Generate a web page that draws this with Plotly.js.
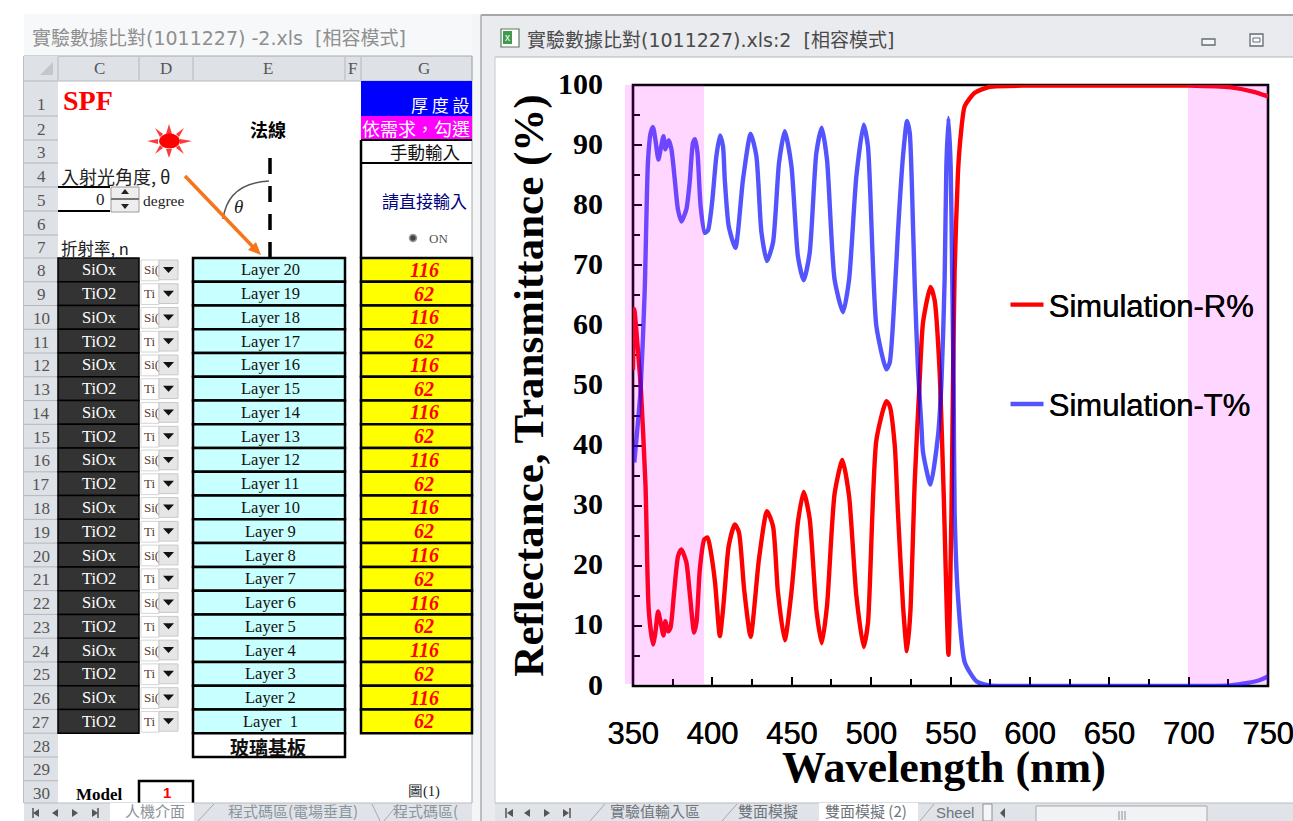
<!DOCTYPE html>
<html>
<head>
<meta charset="utf-8">
<script src="https://cdn.plot.ly/plotly-3.0.1.min.js"></script>
<style>html,body{margin:0;padding:0;background:#fff;overflow:hidden}#chart{width:1293px;height:821px}</style>
</head>
<body>
<div id="chart"></div>
<script>
// ---------- chart data ----------
const wavelengthR = [350,350.8,353,355,357.9,358.4,359.9,362.6,364.1,365.8,367.4,369.2,370.4,372.1,373.6,375.9,378.4,380.5,383.6,385.7,388.5,390,392.1,394.9,397,399.1,401.7,404.7,406.7,407.8,410.3,414.1,416.7,420,424.1,429.3,434.4,438.2,441.3,445.6,449.8,453.9,457.5,461.3,465.5,468.9,472.2,477,481.9,486.1,490.7,495.3,498,503.3,509.6,511.7,514.9,516.9,520.1,522.6,524.7,527.5,530.6,532.7,537.4,540,543.1,545.7,548.7,550.6,551.6,552.6,554.7,556.4,559,565.3,574.7,600,650,700,726.5,740.4,750];
const reflectance = [52.6,62.7,56.2,49.3,33.2,27.7,12.7,6.9,8.9,12.4,10.6,8.4,10.8,9.1,9.7,15.6,21.6,22.7,20.6,15.6,8.9,10.6,19.4,24.4,24.7,22.2,17.2,8.3,12.7,16.1,23.3,26.9,25.6,16.1,8.2,21,29.1,26.6,15.6,7.6,15.6,27.3,32.3,27.8,12.7,7.1,13.3,32,37.6,31.6,15,6.5,10.5,40.9,47.4,46.6,40,28.9,13.3,5.8,12.2,34.2,51,60.5,66.4,64.2,52.6,32.1,5.2,28.9,51,69,85.4,91.5,96.5,98.7,99.7,99.9,99.9,99.9,99.6,98.9,98.1];
const wavelengthT = [350.8,353.1,354.8,357.4,359.4,361.1,362.6,364.1,366,367.4,369.2,370.4,372.5,374.2,376.3,378.3,380.5,383.6,385.7,387.8,389.1,390.6,392.6,395.2,397.2,399.8,402.5,404.8,406.7,407.8,410.3,414.5,419.3,424.1,427.7,430.9,434.4,438.2,442,445.6,449.8,453.9,457.5,461.3,465.5,468.9,472.2,477,482.3,486.1,490.7,495.3,498,503.3,509.6,511.7,514.9,516.9,520.1,522.6,524.3,526.4,527.5,529.5,531.7,532.7,537.4,542.1,544.3,546.3,547.4,548.7,550.1,551,552,552.6,554.7,559,566.3,574.7,600,650,700,726,737,745,750];
const transmittance = [37.2,43.8,49.3,66,87.1,92,93,90.9,87.6,89.3,91.5,89.3,90.8,89.3,84.3,79.3,77.3,79.3,83.8,90.4,91,88.8,79.8,75.4,75.8,80.4,88.1,91.6,89.8,84.3,76.5,72.9,84.3,91.9,88.2,75.5,70.7,73.8,87.1,92.3,86.5,71.5,67.5,72.1,88.7,92.9,87.6,67.6,62.2,67.6,84.8,93.4,89.8,59.9,52.7,53.8,65.5,75.5,88.2,94,92.1,76.5,66.5,52.7,43.2,38.9,33.5,41.6,50.5,67.6,86.5,94.5,86.5,69.8,48.9,28.9,14.9,3.9,0.8,0.1,0,0,0,0.1,0.5,1,1.6];
const seriesNames = ['Simulation-R%','Simulation-T%'];
const xTitle = 'Wavelength (nm)';
const yTitle = 'Reflectance, Transmittance (%)';

// ---------- spreadsheet contents ----------
const columnLetters = ['C','D','E','F','G'];
const materials = ['SiOx','TiO2'];
const comboTexts = ['Si(','Ti'];
const thicknesses = ['116','62'];
const layerNames = ['Layer 20','Layer 19','Layer 18','Layer 17','Layer 16','Layer 15','Layer 14','Layer 13','Layer 12','Layer 11','Layer 10','Layer 9','Layer 8','Layer 7','Layer 6','Layer 5','Layer 4','Layer 3','Layer 2','Layer  1'];

const W = 1293, H = 821;
const X = p => p / W, Y = p => 1 - p / H;
const SANS = 'Liberation Sans', SERIF = 'Liberation Serif', CJK = 'Noto Sans CJK TC';
const TITLEFONT = 'DejaVu Sans, Noto Sans CJK TC';
const shapes = [], annotations = [];

function rect(x0,y0,x1,y1,fill,lineColor,lw){
  shapes.push({type:'rect',xref:'paper',yref:'paper',x0:X(x0),x1:X(x1),y0:Y(y0),y1:Y(y1),layer:'below',
    fillcolor:fill||'rgba(0,0,0,0)',line:{color:lineColor||'rgba(0,0,0,0)',width:lw||0}});
}
function seg(x0,y0,x1,y1,color,lw,dash){
  shapes.push({type:'line',xref:'paper',yref:'paper',x0:X(x0),x1:X(x1),y0:Y(y0),y1:Y(y1),layer:'below',
    line:{color:color,width:lw,dash:dash||'solid'}});
}
function poly(pts,fill){
  const d = pts.map((p,i)=>(i?'L':'M')+X(p[0])+','+Y(p[1])).join(' ')+' Z';
  shapes.push({type:'path',xref:'paper',yref:'paper',path:d,layer:'below',fillcolor:fill,line:{color:fill,width:0}});
}
function oval(cx,cy,rx,ry,fill,lineColor,lw){
  shapes.push({type:'circle',xref:'paper',yref:'paper',x0:X(cx-rx),x1:X(cx+rx),y0:Y(cy+ry),y1:Y(cy-ry),layer:'below',
    fillcolor:fill,line:{color:lineColor||fill,width:lw||0}});
}
function label(text,x,y,size,color,family,anchor){
  annotations.push({text:text,xref:'paper',yref:'paper',x:X(x),y:Y(y),showarrow:false,xanchor:anchor||'center',yanchor:'middle',
    borderpad:0,borderwidth:0,font:{size:size,color:color,family:family}});
}

// window backgrounds
rect(24,14,472,56,'#f7f8f9');
rect(24,56,472,803,'#ffffff');
rect(472,14,481,821,'#f4f5f7');
rect(481,14,1293,821,'#e9ebef');
seg(481,15,1293,15,'#8b9096',1.5);
seg(481,15,481,821,'#a8adb3',1.5);
rect(495,57,1293,803,'#ffffff');
seg(495,57,1293,57,'#b0b4ba',1);
seg(495,57,495,803,'#c4c8cd',1);

label('實驗數據比對(1011227) -2.xls  [相容模式]',32,38,19,'#8f8f8f',TITLEFONT,'left');
label('實驗數據比對(1011227).xls:2  [相容模式]',527,40,19,'#4a4a4a',TITLEFONT,'left');
// workbook icon
rect(501,29,519,47,'#ffffff','#5a7d5a',1.2);
rect(503,31,512,44,'#3f9b4f');
label('x',507.5,37,10,'#ffffff',SANS);
// window buttons
rect(1202,39,1215,45,'#f4f5f6','#666c74',1.3);
rect(1250,34,1263,46,'#f4f5f6','#666c74',1.3);
rect(1253,38,1260,42,'#ffffff','#666c74',1);

// column headers
rect(24,56,472,81,'#dee1e6');
seg(24,56,472,56,'#a5a9ae',1);
seg(24,56,24,803,'#a5a9ae',1.5);
seg(472,56,472,803,'#a5a9ae',1);
rect(24,56,58,803,'#dee1e6');
poly([[53,62],[53,75],[40,75]],'#c3c6ca');
const colEdges = [58,139,193,345,361,472];
const colCentres = [99,166,268,352,424];
colEdges.forEach(x=>seg(x,57,x,80,'#b4b8bd',1));
columnLetters.forEach((c,i)=>label(c,colCentres[i],69,17,'#555555',SERIF));
seg(24,81,472,81,'#b4b8bd',1);

// row geometry
const rowTops = [81,116,140,163,187,211,235];
const rowTop = r => r<=7 ? rowTops[r-1] : 258+23.76*(r-8);
for(let r=1;r<=30;r++){
  const t = rowTop(r), b = rowTop(r+1);
  seg(24,b,58,b,'#b4b8bd',1);
  label(String(r),41,r===1?b-12:(t+b)/2+1,17,'#555555',SERIF);
}

// title area of the sheet
label('<b>SPF</b>',63,100,28,'#ff0000',SERIF,'left');
label('<b>法線</b>',268,129,18,'#000000',CJK);
label('入射光角度, θ',61,176,18,'#222222',CJK,'left');
label('折射率, n',61,248,16.5,'#222222',CJK,'left');
label('0',100,199,17,'#222222',SERIF);
label('degree',143,200,15.5,'#222222',SERIF,'left');
seg(58,187,110,187,'#000000',2);
seg(58,211,110,211,'#000000',2);
rect(111,187,139,212,'#eeeeee','#9a9a9a',1);
seg(111,199,139,199,'#777777',2);
poly([[125,189],[121,194],[129,194]],'#222222');
poly([[125,209],[121,204],[129,204]],'#222222');

// sun
const rays = [[169,124,166,134,172,134],[169,158,166,149,172,149],[147,141,158,139,158,144],[192,141,180,139,180,144],[155,128,163,134,160,137],[184,128,176,134,179,137],[155,154,163,148,160,145],[184,154,176,148,179,145]];
rays.forEach(r=>poly([[r[0],r[1]],[r[2],r[3]],[r[4],r[5]]],'#ff3a3a'));
oval(169.5,141,10.5,7.5,'#ff0000');

// normal, arc, incoming ray
seg(270,158,270,258,'#000000',3.5,'16px,12px');
shapes.push({type:'path',xref:'paper',yref:'paper',layer:'below',line:{color:'#555555',width:1.5},
  path:`M ${X(269)},${Y(181)} Q ${X(228)},${Y(183)} ${X(223)},${Y(219)}`});
label('<i>θ</i>',239,206,19,'#222222',SERIF);
seg(185,176,255,249,'#f7741a',3.5);
poly([[261,255],[248,250],[256,242]],'#f7741a');

// G column header cells
rect(361,81,472,116,'#0000ff');
label('厚 度 設',470,104,17,'#ffffff',CJK,'right');
rect(361,116,472,140,'#ff00ff');
label('依需求，勾選',362,128,18,'#ffffff',CJK,'left');
seg(361,140,361,258,'#000000',2.5);
seg(361,140,472,140,'#000000',2);
seg(361,163,472,163,'#000000',2);
label('手動輸入',425,152,17.5,'#111111',CJK);
label('請直接輸入',424,200,17,'#000080',CJK);
oval(413,238,3.5,3.5,'#444444','#999999',1.5);
label('ON',438,238,13,'#555555',SERIF);

// layer rows
layerNames.forEach((name,i)=>{
  const r = 8+i, t = rowTop(r), b = rowTop(r+1), m = (t+b)/2, k = i%2;
  rect(58,t,139,b,'#333333','#000000',1.5);
  label(materials[k],99,m,16.5,'#ffffff',SERIF);
  rect(141,t+2,159,b-1,'#ffffff','#d5d5d5',1);
  label(comboTexts[k],144,m,13,'#5a4030',SERIF,'left');
  rect(159,t+2,178,b-2,'#e6e6e6','#c8c8c8',1);
  poly([[163,m-3],[174,m-3],[168.5,m+3]],'#111111');
  rect(193,t,345,b,'#c8ffff','#000000',2.5);
  label(name,270,m,16.5,'#111111',SERIF);
  rect(361,t,472,b,'#ffff00','#000000',2.5);
  label('<b><i>'+thicknesses[k]+'</i></b>',424,m,20,'#ff0000',SERIF);
});
rect(193,rowTop(28),345,rowTop(29),'#ffffff','#000000',2.5);
label('<b>玻璃基板</b>',268,746,19,'#111111',CJK);

// row 30
label('<b>Model</b>',99,794,17,'#000000',SERIF);
rect(139,781,193,806,'#ffffff','#000000',2.5);
label('<b>1</b>',167,792,15,'#ff0000',SANS);
label('圖(1)',424,791.5,14.5,'#222222',SERIF);

// sheet tabs, left window
rect(24,803,472,821,'#e0e4e9');
seg(24,803,472,803,'#b8bcc2',1);
rect(110,803,194,821,'#ffffff');
label('人機介面',155,810.5,15,'#8c949c',CJK);
label('程式碼區(電場垂直)',293,810.5,15,'#8c949c',CJK);
label('程式碼區(',393,810.5,15,'#8c949c',CJK,'left');
seg(198,821,214,804,'#a5a9ae',1);seg(372,804,380,821,'#a5a9ae',1);seg(384,821,398,804,'#a5a9ae',1);
[[37,0],[56,0],[74,1],[94,1]].forEach(a=>{
  const x=a[0],d=a[1]?1:-1;
  poly([[x+d*4,813],[x-d*2,809],[x-d*2,817]],'#555555');
});
seg(33,808,33,818,'#555555',1.5);seg(98,808,98,818,'#555555',1.5);

// sheet tabs, right window
rect(495,803,1293,821,'#e0e4e9');
seg(495,803,1293,803,'#b8bcc2',1);
rect(819,803,918,821,'#ffffff');
label('實驗值輸入區',655,810,15,'#6f757c',CJK);
label('雙面模擬',768,810,15,'#6f757c',CJK);
label('雙面模擬 (2)',866,810,15,'#6f757c',CJK);
label('Sheel',955,812,15,'#6f757c',SANS);
seg(590,821,605,804,'#a5a9ae',1);seg(722,821,737,804,'#a5a9ae',1);seg(920,821,934,804,'#a5a9ae',1);
rect(983,804,992,821,'#f4f5f6','#8b9096',1);
poly([[1000,813],[1005,808],[1005,818]],'#555555');
rect(1036,806,1207,825,'#f0f2f4','#a5a9ae',1);
[1119,1122,1125].forEach(x=>seg(x,811,x,820,'#8b9096',1));
[[511,-1],[528,-1],[546,1],[565,1]].forEach(a=>{
  const x=a[0],d=a[1];
  poly([[x+d*4,813],[x-d*2,809],[x-d*2,817]],'#555555');
});
seg(506,808,506,818,'#555555',1.5);seg(570,808,570,818,'#555555',1.5);

// plot frame
rect(633,85,1268,686,null,'#000000',2.6);

// pink wavelength bands, laid over the curves
[[625,704],[1188,1268]].forEach(b=>{
  shapes.push({type:'rect',xref:'paper',yref:'paper',x0:X(b[0]),x1:X(b[1]),y0:Y(684),y1:Y(85),layer:'above',
    fillcolor:'rgba(255,0,255,0.16)',line:{width:0}});
});

// x axis title, placed tight under the tick labels
annotations.push({text:'<b>'+xTitle+'</b>',xref:'paper',yref:'paper',x:X(943.5),y:Y(767),showarrow:false,xanchor:'center',yanchor:'middle',
  font:{family:SERIF,size:44,color:'#000000'}});

const traces = [
  {type:'scatter',mode:'lines',name:seriesNames[0],x:wavelengthR,y:reflectance,cliponaxis:false,legendgroup:'r',
   line:{color:'#ff0000',width:4.4,shape:'spline',smoothing:0.6}},
  {type:'scatter',mode:'lines',name:seriesNames[1],x:wavelengthT,y:transmittance,cliponaxis:false,legendgroup:'t',
   line:{color:'rgba(0,0,255,0.67)',width:4.4,shape:'spline',smoothing:0.6}}
];

const axisCommon = {
  showgrid:false,zeroline:false,showline:false,ticks:'inside',tickcolor:'#000000',
  tickwidth:2,layer:'below traces',fixedrange:true
};
const layout = {
  width:W,height:H,autosize:false,paper_bgcolor:'rgba(0,0,0,0)',plot_bgcolor:'rgba(0,0,0,0)',
  margin:{l:0,r:0,t:0,b:0,pad:0,autoexpand:false},
  xaxis:Object.assign({},axisCommon,{domain:[X(633),X(1268)],range:[350,750],tick0:350,dtick:50,ticklen:9,
    minor:{dtick:25,ticks:'inside',ticklen:7,tickwidth:2,tickcolor:'#000000'},
    ticklabelstandoff:26,ticklabeloverflow:'allow',tickfont:{family:SANS,size:31,color:'#000000',shadow:'0.5px 0 0 #000'}}),
  yaxis:Object.assign({},axisCommon,{domain:[Y(686),Y(85)],range:[0,100],tick0:0,dtick:10,ticklen:9,
    minor:{dtick:5,ticks:'inside',ticklen:7,tickwidth:2,tickcolor:'#000000'},
    ticklabelstandoff:29,ticklabelshift:-2,tickfont:{family:SERIF,size:30,weight:'bold',color:'#000000'},
    title:{text:yTitle,font:{family:SERIF,size:43,weight:'bold',color:'#000000'},standoff:0}}),
  legend:{x:X(1005.5),y:Y(278),xanchor:'left',yanchor:'top',bgcolor:'rgba(0,0,0,0)',borderwidth:0,itemwidth:33,
    tracegroupgap:56,font:{family:SANS,size:31,color:'#000000',shadow:'0.5px 0 0 #000'}},
  showlegend:true,
  shapes:shapes,annotations:annotations
};
Plotly.newPlot('chart',traces,layout,{displayModeBar:false,staticPlot:true});
</script>
</body>
</html>
